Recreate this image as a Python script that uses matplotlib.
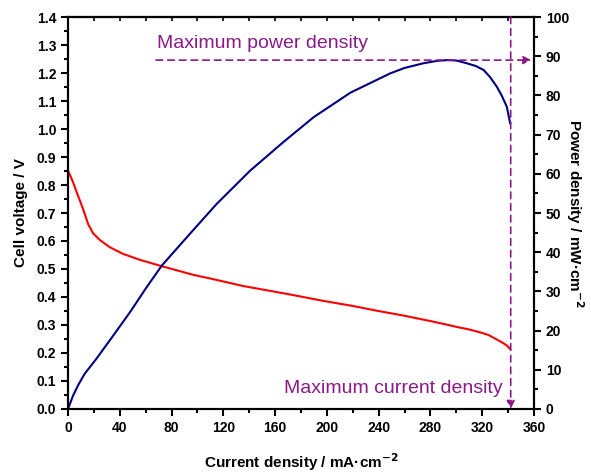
import matplotlib
matplotlib.use("Agg")
import matplotlib.pyplot as plt
from matplotlib.ticker import MultipleLocator, NullFormatter, FormatStrFormatter

plt.rcParams['font.family'] = ['Liberation Sans', 'DejaVu Sans']

# Polarization curve (cell voltage)
v_current = [0, 3.9, 7.7, 11.6, 15.5, 19.3, 24.5, 32.2, 42.5, 55.4, 70.9, 96.9,
             110, 135.5, 150, 171.6, 198.6, 220, 239.8, 260, 280, 290, 300.4,
             310, 319.7, 325, 331.3, 336, 339.5, 341.6]
v_voltage = [0.852, 0.810, 0.762, 0.715, 0.661, 0.628, 0.604, 0.578, 0.554, 0.533,
             0.512, 0.479, 0.466, 0.439, 0.427, 0.409, 0.385, 0.368, 0.350, 0.333,
             0.314, 0.304, 0.293, 0.284, 0.272, 0.264, 0.248, 0.236, 0.225, 0.214]

# Power density curve
p_current = [0, 3.9, 7.7, 12.9, 21.9, 35, 47.9, 60.8, 72.5, 94.2, 114.8, 140.7,
             166.4, 189.6, 218.2, 248.8, 260, 274.6, 285, 292.6, 300, 308, 315,
             321, 326, 331.3, 335, 339, 341.6]
p_power = [0, 3.4, 6.0, 9.0, 12.8, 18.75, 24.7, 31.1, 36.6, 44.7, 52.3, 60.8,
           68.1, 74.4, 80.7, 85.6, 87.0, 88.2, 88.8, 89.0, 88.9, 88.2, 87.5,
           86.5, 84.7, 82.2, 80.0, 77.1, 72.9]

max_power = 89
max_current = 342

purple = '#8B1A89'

fig = plt.figure(figsize=(5.91, 4.75), dpi=100)
ax = fig.add_axes([68/591, 1-409/475, (534-68)/591, (409-17)/475])
ax2 = ax.twinx()

ax.plot(v_current, v_voltage, color='#FF0000', lw=1.5)
ax2.plot(p_current, p_power, color='#000080', lw=1.5)

ax.set_xlim(0, 360)
ax.set_ylim(0, 1.4)
ax2.set_ylim(0, 100)

ax.xaxis.set_major_locator(MultipleLocator(40))
ax.xaxis.set_minor_locator(MultipleLocator(20))
ax.yaxis.set_major_locator(MultipleLocator(0.1))
ax.yaxis.set_minor_locator(MultipleLocator(0.05))
ax2.yaxis.set_major_locator(MultipleLocator(10))
ax2.yaxis.set_minor_locator(MultipleLocator(5))
ax.yaxis.set_major_formatter(FormatStrFormatter('%.1f'))

for a in (ax, ax2):
    for s in a.spines.values():
        s.set_linewidth(1.5)
ax.tick_params(axis='both', which='major', direction='out', length=5, width=1.5,
               labelsize=10)
ax.tick_params(axis='both', which='minor', direction='out', length=3, width=1.5)
ax2.tick_params(axis='y', which='major', direction='out', length=5, width=1.5, labelsize=10)
ax2.tick_params(axis='y', which='minor', direction='out', length=3, width=1.5)

# top axis: inward ticks, no labels
sec = ax.secondary_xaxis('top')
sec.xaxis.set_major_locator(MultipleLocator(20))
sec.xaxis.set_major_formatter(NullFormatter())
sec.tick_params(axis='x', which='major', direction='in', length=3, width=1.2)
sec.spines['top'].set_linewidth(1.5)

for lbl in ax.get_xticklabels() + ax.get_yticklabels() + ax2.get_yticklabels():
    lbl.set_fontweight('bold')

ax.set_xlabel('Current density / mA·cm$^{\\mathbf{-2}}$', fontsize=11, fontweight='bold', labelpad=12)
ax.set_ylabel('Cell voltage / V', fontsize=11, fontweight='bold', labelpad=6)
ax2.set_ylabel('Power density / mW·cm$^{\\mathbf{-2}}$', fontsize=11, fontweight='bold',
               rotation=-90, labelpad=12)

# Annotations
ax2.annotate('', xy=(358, max_power), xytext=(68, max_power),
             arrowprops=dict(arrowstyle='-|>', color=purple, lw=1.2, linestyle=(0, (4, 3)),
                             mutation_scale=12, shrinkA=0, shrinkB=0))
ax2.annotate('', xy=(max_current, 0), xytext=(max_current, 100),
             arrowprops=dict(arrowstyle='-|>', color=purple, lw=1.2, linestyle=(0, (4, 3)),
                             mutation_scale=12, shrinkA=0, shrinkB=0))
ax2.text(69, 93.3, 'Maximum power density', color=purple, fontsize=14, va='center', ha='left')
ax2.text(335.5, 5.2, 'Maximum current density', color=purple, fontsize=14, va='center', ha='right')

fig.savefig('out.png', dpi=100)
